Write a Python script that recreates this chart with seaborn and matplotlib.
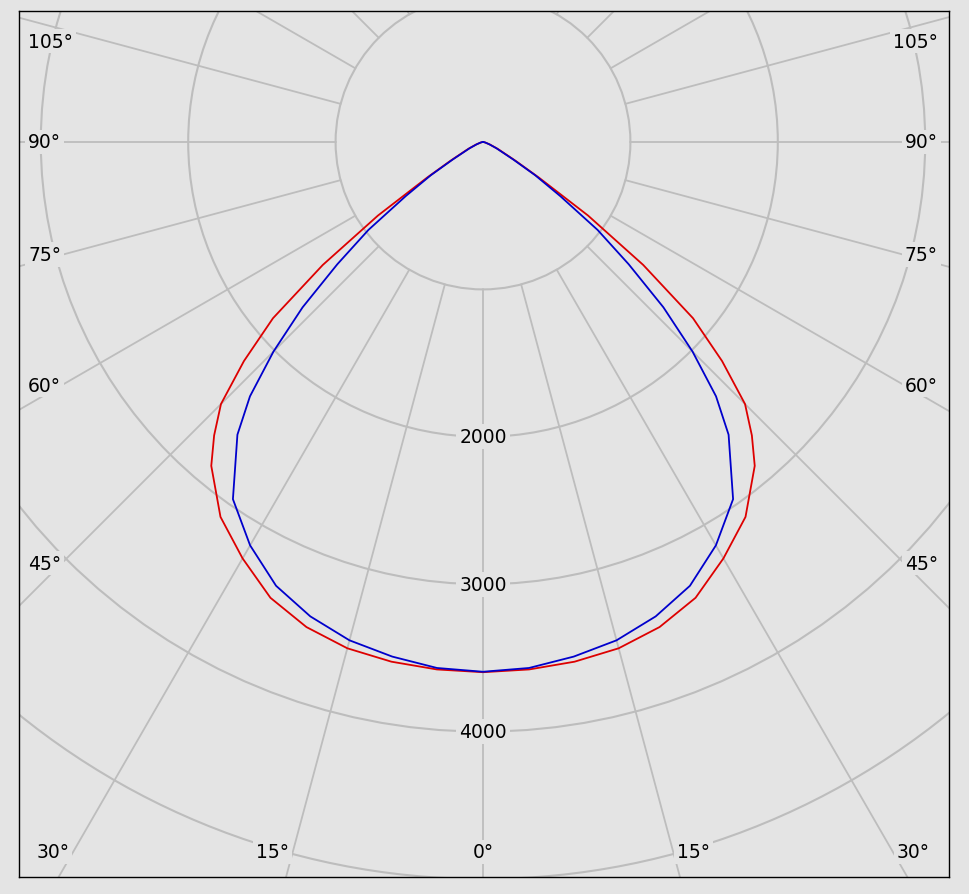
import numpy as np
import pandas as pd
import matplotlib
matplotlib.use('Agg')
import matplotlib.pyplot as plt
from matplotlib.patches import Circle
import seaborn as sns

# luminous intensity (cd) per gamma angle, symmetric planes
gamma = [0, 5, 10, 15, 20, 25, 30, 35, 40, 42.5, 45, 47.5, 50, 52.5, 55, 57.5, 60,
         65, 70, 75, 80, 85, 90]
red_cd = [3597, 3592, 3580, 3556, 3502, 3412, 3262, 3105, 2868, 2700, 2514, 2200, 1860,
          1370, 870, 450, 255, 110, 50, 20, 10, 5, 0]
blue_cd = [3594, 3582, 3545, 3500, 3425, 3322, 3160, 2958, 2592, 2340, 2010, 1660, 1290,
           980, 640, 420, 235, 100, 45, 20, 10, 5, 0]
plane_names = ['C0-C180', 'C90-C270']
plane_colors = ['#dd0000', '#0000cc']

ring_values = [1000, 2000, 3000, 4000, 5000, 6000, 7000]
ring_labels = [2000, 3000, 4000]
angle_labels = [0, 15, 30, 45, 60, 75, 90, 105]

bg = '#e4e4e4'
grid_c = '#bdbdbd'

sns.set_theme(style='white')
plt.rcParams['font.family'] = ['DejaVu Sans']
plt.rcParams['text.color'] = 'black'

fig = plt.figure(figsize=(9.69, 8.95), dpi=100)
fig.patch.set_facecolor(bg)
ax = fig.add_axes([19 / 969, 17 / 895, 930 / 969, 866 / 895])
ax.set_facecolor(bg)

px = 1000 / 147.4  # cd per pixel
ax.set_xlim(-464 * px, 466 * px)
ax.set_ylim(-735 * px, 131 * px)

# rings and spokes
for r in ring_values:
    ax.add_patch(Circle((0, 0), r, fill=False, ec=grid_c, lw=1.5, zorder=1))
for a in range(0, 360, 15):
    t = np.radians(a)
    ax.plot([1000 * np.sin(t), 9000 * np.sin(t)], [-1000 * np.cos(t), -9000 * np.cos(t)],
            color=grid_c, lw=1.3, zorder=1)

# curves, mirrored to both sides
rows = []
for name, vals in zip(plane_names, [red_cd, blue_cd]):
    angs = [-g for g in gamma[::-1]] + gamma[1:]
    ivals = vals[::-1] + vals[1:]
    for i, (g, v) in enumerate(zip(angs, ivals)):
        t = np.radians(g)
        rows.append({'plane': name, 'x': v * np.sin(t), 'y': -v * np.cos(t), 'k': i})
df = pd.DataFrame(rows)
sns.lineplot(data=df, x='x', y='y', hue='plane', hue_order=plane_names,
             palette=plane_colors, sort=False, estimator=None, lw=1.3,
             legend=False, ax=ax, zorder=3)

box = dict(boxstyle='square,pad=0.15', fc=bg, ec='none')
fs = 13.5

for r in ring_labels:
    ax.text(0, -r, str(r), ha='center', va='center', fontsize=fs, color='black',
            bbox=box, zorder=4)

# angle labels along the frame
side_in = 421 * px
bottom_in = -710 * px
top_in = 101 * px
side_x = 455 * px
for a in angle_labels:
    for s in ([1] if a == 0 else [-1, 1]):
        t = np.radians(a)
        dx, dy = s * np.sin(t), -np.cos(t)
        tb = bottom_in / dy if dy < 0 else np.inf
        ts = side_in / abs(dx) if dx != 0 else np.inf
        if tb <= ts:
            if a == 0:
                x, ha = 0, 'center'
            else:
                x = dx * tb + s * 4 * px
                ha = 'right' if s < 0 else 'left'
            y = bottom_in
        else:
            y = min(dy * ts, top_in)
            x = s * side_x
            ha = 'left' if s < 0 else 'right'
        ax.text(x, y, f'{a}°', ha=ha, va='center', fontsize=fs, color='black',
                bbox=box, zorder=4)

ax.set_xticks([])
ax.set_yticks([])
ax.set_xlabel('')
ax.set_ylabel('')
for sp in ax.spines.values():
    sp.set_color('black')
    sp.set_linewidth(1.0)
    sp.set_visible(True)

fig.savefig('out.png', dpi=100, facecolor=bg)
